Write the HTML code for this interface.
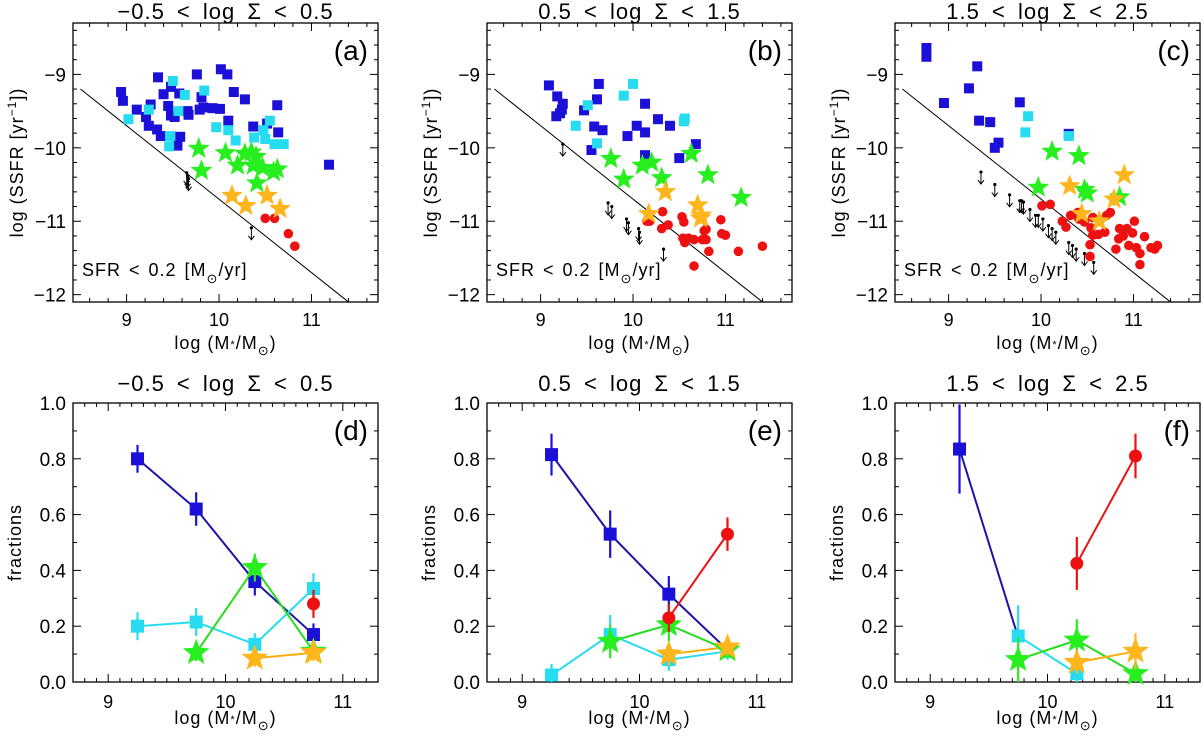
<!DOCTYPE html>
<html><head><meta charset="utf-8">
<style>
html,body{margin:0;padding:0;background:#fff;}
svg{display:block;font-family:"Liberation Sans",sans-serif;}
</style></head>
<body>
<svg id="fig" width="1203" height="739" viewBox="0 0 1203 739" xmlns="http://www.w3.org/2000/svg"></svg>
<script>
// ---------- data: top row (log M, log SSFR) ----------
const aBlue=[[8.94,-9.24],[8.96,-9.36],[9.11,-9.48],[9.26,-9.41],[9.21,-9.58],[9.24,-9.70],[9.34,-9.04],[9.33,-9.75],[9.37,-9.84],[9.40,-9.27],[9.45,-9.43],[9.48,-9.17],[9.48,-9.56],[9.52,-9.58],[9.55,-9.97],[9.58,-9.85],[9.57,-9.26],[9.66,-9.50],[9.67,-9.55],[9.76,-9.00],[9.79,-9.48],[9.81,-9.31],[9.83,-9.45],[9.93,-9.46],[10.01,-9.47],[10.02,-8.93],[10.09,-9.00],[10.10,-9.63],[10.16,-9.24],[10.28,-9.34],[10.37,-9.71],[10.52,-9.67],[10.63,-9.42],[10.64,-9.79],[11.19,-10.23]];
const aCyan=[[9.02,-9.61],[9.24,-9.48],[9.50,-9.09],[9.63,-9.28],[9.56,-9.50],[9.47,-9.84],[9.46,-9.98],[9.84,-9.22],[9.97,-9.72],[10.10,-9.76],[10.18,-9.90],[10.38,-9.86],[10.48,-9.76],[10.55,-9.63],[10.60,-9.95],[10.70,-9.95],[10.50,-9.88]];
const aGreen=[[9.78,-10.01],[9.81,-10.31],[10.07,-10.07],[10.20,-10.24],[10.28,-10.08],[10.35,-10.06],[10.37,-10.24],[10.40,-10.12],[10.47,-10.27],[10.41,-10.48],[10.59,-10.33],[10.63,-10.29]];
const aOrange=[[10.14,-10.65],[10.29,-10.79],[10.52,-10.65],[10.66,-10.83]];
const aRed=[[10.50,-10.96],[10.60,-10.96],[10.75,-11.17],[10.82,-11.34]];
const aLim=[[9.65,-10.34],[9.66,-10.38],[9.67,-10.42],[10.35,-11.09]];

const bBlue=[[9.09,-9.15],[9.18,-9.30],[9.17,-9.57],[9.23,-9.48],[9.24,-9.40],[9.21,-9.53],[9.47,-9.49],[9.55,-10.03],[9.58,-9.71],[9.61,-9.34],[9.63,-9.13],[9.67,-9.76],[9.94,-9.84],[10.04,-9.70],[10.13,-9.40],[10.13,-9.79],[10.13,-10.10],[10.27,-9.61],[10.40,-9.70],[10.50,-10.14],[10.68,-9.95]];
const bCyan=[[9.38,-9.70],[9.51,-9.42],[9.61,-9.94],[9.90,-9.29],[10.00,-9.13],[10.55,-9.64],[10.56,-9.60]];
const bGreen=[[9.76,-10.15],[9.90,-10.43],[10.10,-10.24],[10.20,-10.20],[10.31,-10.41],[10.63,-10.08],[10.81,-10.37],[11.17,-10.68]];
const bOrange=[[10.17,-10.90],[10.35,-10.60],[10.70,-10.78],[10.73,-10.96],[10.74,-10.92]];
const bRed=[[10.15,-11.00],[10.18,-11.00],[10.32,-10.87],[10.31,-11.10],[10.38,-11.05],[10.53,-10.94],[10.55,-11.01],[10.54,-11.23],[10.56,-11.29],[10.66,-11.25],[10.66,-11.61],[10.75,-11.25],[10.79,-11.25],[10.79,-11.11],[10.82,-11.41],[10.95,-10.98],[10.96,-11.17],[11.00,-11.19],[11.14,-11.41],[11.40,-11.34],[10.77,-11.13],[10.60,-11.23]];
const bLim=[[9.24,-9.95],[9.73,-10.75],[9.77,-10.80],[9.93,-10.97],[9.95,-11.02],[10.06,-11.10],[10.07,-11.15],[10.33,-11.38]];

const cBlue=[[8.76,-8.64],[8.76,-8.76],[9.31,-8.89],[9.22,-9.19],[8.95,-9.39],[9.33,-9.63],[9.45,-9.65],[9.50,-10.00],[9.54,-9.93],[9.77,-9.38],[10.30,-9.81]];
const cCyan=[[9.86,-9.57],[9.83,-9.79],[10.30,-9.84]];
const cGreen=[[10.12,-10.05],[10.41,-10.11],[9.97,-10.54],[10.47,-10.57],[10.50,-10.62],[10.85,-10.67]];
const cOrange=[[10.90,-10.37],[10.31,-10.52],[10.79,-10.70],[10.44,-10.90],[10.63,-11.00]];
const cRed=[[10.01,-10.79],[10.10,-10.77],[10.23,-11.00],[10.27,-11.08],[10.32,-10.92],[10.41,-10.97],[10.47,-11.01],[10.54,-11.09],[10.56,-11.19],[10.53,-11.32],[10.53,-11.48],[10.62,-11.18],[10.69,-11.15],[10.75,-10.88],[10.84,-11.24],[10.85,-11.10],[10.93,-11.10],[10.95,-11.33],[10.99,-11.16],[11.01,-11.00],[11.03,-11.36],[11.07,-11.44],[11.07,-11.59],[11.12,-11.21],[11.23,-11.38],[11.26,-11.33],[10.81,-11.38],[10.89,-11.20],[10.56,-10.95],[10.40,-10.88],[10.71,-10.92],[11.19,-11.36]];
const cLim=[[9.35,-10.33],[9.50,-10.50],[9.66,-10.64],[9.77,-10.72],[9.79,-10.72],[9.81,-10.74],[9.88,-10.84],[9.94,-10.92],[9.97,-10.92],[10.02,-10.97],[10.08,-11.06],[10.12,-11.10],[10.16,-11.15],[10.30,-11.29],[10.34,-11.33],[10.38,-11.38],[10.47,-11.44],[10.57,-11.56]];

// ---------- data: bottom row fractions ----------
const massBins=[9.25,9.75,10.25,10.75];
const dBlue=[0.80,0.62,0.36,0.17], dBlueErr=[0.05,0.06,0.05,0.04];
const dCyan=[0.20,0.215,0.135,0.335], dCyanErr=[0.05,0.05,0.04,0.055];
const dGreen=[null,0.105,0.41,0.11], dGreenErr=[null,0.03,0.05,0.03];
const dOrange=[null,null,0.085,0.105], dOrangeErr=[null,null,0.03,0.03];
const dRed=[null,null,null,0.28], dRedErr=[null,null,null,0.05];

const eBlue=[0.815,0.53,0.315,0.115], eBlueErr=[0.075,0.085,0.065,0.03];
const eCyan=[0.025,0.17,0.08,0.11], eCyanErr=[0.04,0.07,0.04,0.03];
const eGreen=[null,0.145,0.205,0.115], eGreenErr=[null,0.06,0.06,0.03];
const eOrange=[null,null,0.10,0.125], eOrangeErr=[null,null,0.04,0.03];
const eRed=[null,null,0.23,0.53], eRedErr=[null,null,0.05,0.06];

const fBlue=[0.835,0.16,null,null], fBlueErr=[0.16,0.05,null,null];
const fCyan=[null,0.165,0.03,null], fCyanErr=[null,0.11,0.03,null];
const fGreen=[null,0.08,0.15,0.03], fGreenErr=[null,0.08,0.075,0.03];
const fOrange=[null,null,0.07,0.11], fOrangeErr=[null,null,0.04,0.065];
const fRed=[null,null,0.425,0.81], fRedErr=[null,null,0.095,0.08];

const topXTicks=[9,10,11], topYTicks=[-9,-10,-11,-12];
const botXTicks=[9,10,11], botYTicks=[0,0.2,0.4,0.6,0.8,1.0];
const topTitles=["\u22120.5 < log \u03A3 < 0.5","0.5 < log \u03A3 < 1.5","1.5 < log \u03A3 < 2.5"];

// ---------- drawing ----------
const NS="http://www.w3.org/2000/svg";
const svg=document.getElementById('fig');
const COL={blue:'#1c10d8',cyan:'#27dcf0',green:'#27ee1e',orange:'#ffb51c',red:'#ee1111'};
const LINECOL={blue:'#1a14a8',cyan:'#27dcf0',green:'#27dd1e',orange:'#ffad10',red:'#ee1111'};
function mk(tag,attrs,parent){const e=document.createElementNS(NS,tag);for(const k in attrs)e.setAttribute(k,attrs[k]);(parent||svg).appendChild(e);return e;}
function starPts(cx,cy,R){const r=R*0.42;let p=[];for(let i=0;i<10;i++){const a=-Math.PI/2+i*Math.PI/5;const rr=i%2?r:R;p.push((cx+rr*Math.cos(a)).toFixed(1)+','+(cy+rr*Math.sin(a)).toFixed(1));}return p.join(' ');}
function fmtNeg(v){return v<0?'\u2212'+Math.abs(v):String(v);}

function axesBox(g,L,T,W,H,sx,sy,xr,yr,xMinor,yMinor,xt,yt,yFmt,xTickDy){
  mk('rect',{x:L,y:T,width:W,height:H,fill:'none',stroke:'#000','stroke-width':1.3},g);
  const eps=1e-6;
  for(let v=Math.ceil(xr[0]/xMinor-eps)*xMinor;v<=xr[1]+eps;v+=xMinor){
    const major=Math.abs(v-Math.round(v))<1e-6;const len=major?8:4;const px=sx(v);
    mk('line',{x1:px,y1:T+H,x2:px,y2:T+H-len,stroke:'#000','stroke-width':1},g);
    mk('line',{x1:px,y1:T,x2:px,y2:T+len,stroke:'#000','stroke-width':1},g);
  }
  for(let v=Math.ceil(yr[0]/yMinor-eps)*yMinor;v<=yr[1]+eps;v+=yMinor){
    const isMaj=yt.some(t=>Math.abs(t-v)<1e-6);const len=isMaj?8:4;const py=sy(v);
    mk('line',{x1:L,y1:py,x2:L+len,y2:py,stroke:'#000','stroke-width':1},g);
    mk('line',{x1:L+W,y1:py,x2:L+W-len,y2:py,stroke:'#000','stroke-width':1},g);
  }
  xt.forEach(v=>{const t=mk('text',{x:sx(v),y:T+H+xTickDy,'text-anchor':'middle','font-size':18},g);t.textContent=v;
    
    });
  yt.forEach(v=>{const t=mk('text',{x:L-7,y:sy(v)+7,'text-anchor':'end','font-size':19},g);t.textContent=yFmt(v);
    
    });
}
function xLabel(g,cx,y){
  const t=mk('text',{x:cx,y:y,'text-anchor':'middle','font-size':18,'letter-spacing':1},g);
  t.innerHTML='log (M<tspan font-size="11" dy="-1">*</tspan><tspan dy="1">/M</tspan><tspan font-size="13" dy="6">\u2299</tspan><tspan dy="-6">)</tspan>';
  
  
}
function yLabel(g,x,cy,html,name){
  const t=mk('text',{x:0,y:0,'text-anchor':'middle','font-size':18,'letter-spacing':1,transform:`translate(${x},${cy}) rotate(-90)`},g);
  t.innerHTML=html;
  
  
}
function title(g,cx,y,s){const t=mk('text',{x:cx,y:y,'text-anchor':'middle','font-size':22,'word-spacing':5,'letter-spacing':1},g);t.textContent=s;
  
  }
function plabel(g,x,y,s){const t=mk('text',{x:x,y:y,'text-anchor':'end','font-size':28},g);t.textContent=s;
  
  }

function square(g,x,y,s,c,name){const e=mk('rect',{x:x-s/2,y:y-s/2,width:s,height:s,fill:c},g);
  
  }
function circle(g,x,y,r,c,name){const e=mk('circle',{cx:x,cy:y,r:r,fill:c},g);
  
  }
function star(g,x,y,R,c,name){const e=mk('polygon',{points:starPts(x,y,R),fill:c},g);
  
  }

const topL=[73,487,895], W=305, topT=23, topH=279, botT=403, botH=279;
const topData=[[aBlue,aCyan,aGreen,aOrange,aRed,aLim],[bBlue,bCyan,bGreen,bOrange,bRed,bLim],[cBlue,cCyan,cGreen,cOrange,cRed,cLim]];
const botData=[
 [[dBlue,dBlueErr],[dCyan,dCyanErr],[dGreen,dGreenErr],[dOrange,dOrangeErr],[dRed,dRedErr]],
 [[eBlue,eBlueErr],[eCyan,eCyanErr],[eGreen,eGreenErr],[eOrange,eOrangeErr],[eRed,eRedErr]],
 [[fBlue,fBlueErr],[fCyan,fCyanErr],[fGreen,fGreenErr],[fOrange,fOrangeErr],[fRed,fRedErr]]];
const letters=['a','b','c','d','e','f'];

for(let p=0;p<3;p++){
  const L=topL[p];
  const g=mk('g',{});
  
  
  const xr=[8.42,11.72], yr=[-12.1,-8.3];
  const sx=v=>L+(v-xr[0])/(xr[1]-xr[0])*W;
  const sy=v=>topT+topH-(v-yr[0])/(yr[1]-yr[0])*topH;
  axesBox(g,L,topT,W,topH,sx,sy,xr,yr,0.2,0.2,topXTicks,topYTicks,fmtNeg,24);
  title(g,L+W/2,19,topTitles[p]);
  plabel(g,L+W-10,topT+37,'('+letters[p]+')');
  xLabel(g,L+W/2,349);
  yLabel(g,L-50,topT+topH/2,'log (SSFR [yr<tspan font-size="12" dy="-7">\u22121</tspan><tspan dy="7">])</tspan>','y-axis-title');
  const x0=8.5,x1=11.4;
  const ln=mk('line',{x1:sx(x0),y1:sy(Math.log10(0.2)-x0),x2:sx(x1),y2:sy(Math.log10(0.2)-x1),stroke:'#000','stroke-width':1},g);
  
  
  const lt=mk('text',{x:L+9,y:topT+253,'font-size':18,'letter-spacing':1,'word-spacing':2},g);
  lt.innerHTML='SFR &lt; 0.2 [M<tspan font-size="13" dy="7">\u2299</tspan><tspan dy="-7">/yr]</tspan>';
  
  
  const [B,C,G,O,R,LIM]=topData[p];
  LIM.forEach(d=>{const x=sx(d[0]),y=sy(d[1]);const a=mk('g',{},g);
    
    
    mk('circle',{cx:x,cy:y,r:1.6,fill:'#000'},a);
    mk('line',{x1:x,y1:y,x2:x,y2:y+12,stroke:'#000','stroke-width':1},a);
    mk('polyline',{points:`${x-3},${y+8} ${x},${y+12} ${x+3},${y+8}`,fill:'none',stroke:'#000','stroke-width':1},a);});
  B.forEach(d=>square(g,sx(d[0]),sy(d[1]),10,COL.blue,'blue-square-point'));
  C.forEach(d=>square(g,sx(d[0]),sy(d[1]),10,COL.cyan,'cyan-square-point'));
  R.forEach(d=>circle(g,sx(d[0]),sy(d[1]),4.8,COL.red,'red-circle-point'));
  G.forEach(d=>star(g,sx(d[0]),sy(d[1]),11.5,COL.green,'green-star-point'));
  O.forEach(d=>star(g,sx(d[0]),sy(d[1]),11.5,COL.orange,'orange-star-point'));

  const h=mk('g',{});
  
  
  const bxr=[8.7,11.3], byr=[0,1.0];
  const bx=v=>L+(v-bxr[0])/(bxr[1]-bxr[0])*W;
  const by=v=>botT+botH-(v-byr[0])/(byr[1]-byr[0])*botH;
  axesBox(h,L,botT,W,botH,bx,by,bxr,byr,0.1,0.1,botXTicks,botYTicks,v=>v.toFixed(1),26);
  title(h,L+W/2,391,topTitles[p]);
  plabel(h,L+W-10,botT+37,'('+letters[p+3]+')');
  xLabel(h,L+W/2,724);
  yLabel(h,L-52,botT+botH/2,'fractions','y-axis-title');
  const kinds=['blue','cyan','green','orange','red'];
  botData[p].forEach((s,k)=>{const vals=s[0];let pts=[];
    vals.forEach((v,i)=>{if(v!==null)pts.push(bx(massBins[i])+','+by(v));});
    if(pts.length>1){const pl=mk('polyline',{points:pts.join(' '),fill:'none',stroke:LINECOL[kinds[k]],'stroke-width':2},h);
      
      }
  });
  botData[p].forEach((s,k)=>{const vals=s[0],errs=s[1];
    vals.forEach((v,i)=>{if(v===null)return;const x=bx(massBins[i]),y=by(v);
      if(p===2&&k===0&&i===1)return;
      const eb=mk('line',{x1:x,y1:by(Math.min(1,v+errs[i])),x2:x,y2:by(Math.max(0,v-errs[i])),stroke:COL[kinds[k]],'stroke-width':2.2},h);
      
      
      if(k<2)square(h,x,y,13,COL[kinds[k]],kinds[k]+'-fraction-marker');
      else if(k===4)circle(h,x,y,6.5,COL.red,'red-fraction-marker');
      else star(h,x,y,14,COL[kinds[k]],kinds[k]+'-fraction-marker');
    });
  });
}
</script>
</body></html>
